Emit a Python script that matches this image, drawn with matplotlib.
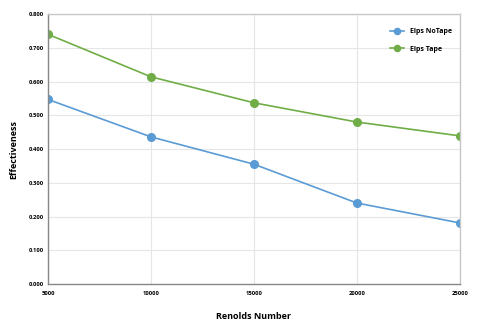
import matplotlib
matplotlib.use("Agg")
import matplotlib.pyplot as plt

reynolds = [5000, 10000, 15000, 20000, 25000]
no_tape = [0.547, 0.436, 0.355, 0.240, 0.181]
tape = [0.740, 0.614, 0.537, 0.480, 0.439]
yticks = [0.0, 0.1, 0.2, 0.3, 0.4, 0.5, 0.6, 0.7, 0.8]

plt.rcParams['font.family'] = ['Open Sans', 'DejaVu Sans']

fig = plt.figure(figsize=(4.8, 3.27), dpi=100)
ax = fig.add_axes([0.1, 0.1315, 0.858, 0.8255])

ax.plot(reynolds, no_tape, color='#5B9BD5', marker='o', markersize=5.5, linewidth=1.2, label='Elps NoTape')
ax.plot(reynolds, tape, color='#70AD47', marker='o', markersize=5.5, linewidth=1.2, label='Elps Tape')

ax.set_xlim(5000, 25000)
ax.set_ylim(0, 0.8)
ax.set_xticks(reynolds)
ax.set_xticklabels([str(r) for r in reynolds])
ax.set_yticks(yticks)
ax.set_yticklabels([f"{v:.3f}" for v in yticks])
ax.tick_params(labelsize=4.2, length=0)
ax.tick_params(axis='x', pad=5)
ax.tick_params(axis='y', pad=3)
for lbl in ax.get_xticklabels() + ax.get_yticklabels():
    lbl.set_fontweight('bold')
ax.grid(True, color='#e6e6e6', linewidth=0.8)
ax.set_axisbelow(True)
for s in ['top', 'right']:
    ax.spines[s].set_color('#c8c8c8')
    ax.spines[s].set_linewidth(1.0)
for s in ['left', 'bottom']:
    ax.spines[s].set_color('#888888')
    ax.spines[s].set_linewidth(1.0)

ax.set_xlabel('Renolds Number', fontsize=6.5, fontweight='bold')
ax.set_ylabel('Effectiveness', fontsize=6.5, fontweight='bold')
ax.xaxis.set_label_coords(0.5, -0.105)
ax.yaxis.set_label_coords(-0.072, 0.5)

leg = ax.legend(loc='upper right', frameon=False, prop={'weight': 'bold', 'size': 5},
                handlelength=2, markerscale=0.8, bbox_to_anchor=(0.995, 0.97), labelspacing=1.5)

fig.savefig('out.png', dpi=100)
